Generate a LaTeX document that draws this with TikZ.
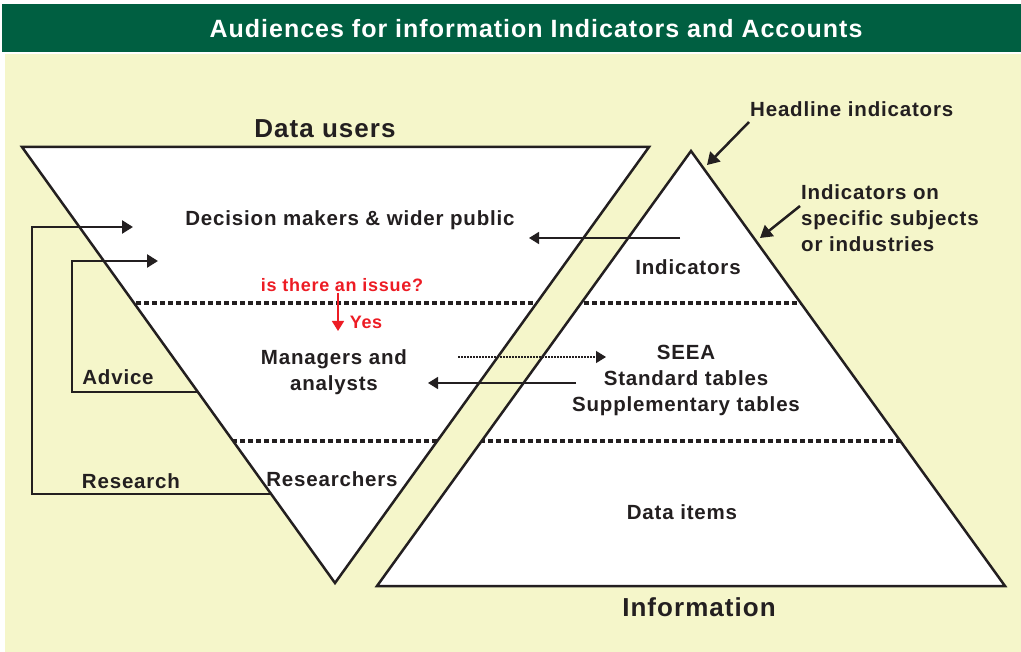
\documentclass[tikz,border=0pt]{standalone}
\usepackage{fontspec}
\setmainfont{Liberation Sans}[LetterSpace=4]
\usetikzlibrary{arrows.meta}
\definecolor{titlegreen}{RGB}{0,95,65}
\definecolor{paper}{RGB}{245,246,202}
\definecolor{ink}{RGB}{35,31,32}
\definecolor{issuered}{RGB}{237,28,36}
\tikzstyle{lbl}=[text=ink, font=\fontsize{20.5}{26}\selectfont\bfseries,
    align=center, inner sep=0pt]
\tikzstyle{big}=[lbl, font=\fontsize{26}{28}\selectfont\bfseries]
\tikzstyle{ask}=[lbl, text=issuered, font=\fontsize{18}{20}\selectfont\bfseries]
\tikzstyle{tri}=[draw=ink, line width=2.5pt, fill=white]
\tikzstyle{level}=[draw=ink, line width=3.5pt, dash pattern=on 4.5pt off 3.5pt]
\tikzstyle{feed}=[draw=ink, line width=2.5pt, -{Triangle[length=11pt,width=13pt]}]
\tikzstyle{flow}=[draw=ink, line width=1.6pt, -{Triangle[length=10pt,width=12pt]}]
\tikzstyle{hint}=[flow, line width=1.3pt, dash pattern=on 2pt off 1pt]
\tikzstyle{point}=[draw=ink, line width=2.5pt, -{Triangle[length=12pt,width=14pt]}]

\begin{document}
\begin{tikzpicture}[x=1pt, y=-1pt]
    \useasboundingbox (0,0) rectangle (1021,652);
    % frame and title
    \fill[paper] (5,54) rectangle (1021,652);
    \fill[titlegreen] (2,4) rectangle (1021,52);
    \node (title) at (536,29) [text=white, font=\fontsize{25}{28}\selectfont\bfseries]
        {Audiences for information Indicators and Accounts};
    % the two triangles
    \coordinate (du-l) at (22,147);
    \coordinate (du-r) at (649,147);
    \coordinate (du-b) at (335,583);
    \coordinate (in-t) at (691,151);
    \coordinate (in-l) at (377,586);
    \coordinate (in-r) at (1005,586);
    \draw[tri] (du-l) -- (du-r) -- (du-b) -- cycle;
    \draw[tri] (in-t) -- (in-r) -- (in-l) -- cycle;
    \begin{scope}
        \clip (du-l) -- (du-r) -- (du-b) -- cycle;
        \draw[level] (0,303) -- (1021,303) (0,441) -- (1021,441);
    \end{scope}
    \begin{scope}
        \clip (in-t) -- (in-r) -- (in-l) -- cycle;
        \draw[level] (0,303) -- (1021,303) (0,441) -- (1021,441);
    \end{scope}
    % labels
    \node (users) at (325,129) [big] {Data users};
    \node (info) at (699,607) [big] {Information};
    \node (headline) at (750,109) [lbl, anchor=west] {Headline indicators};
    \node (specific) at (801,218) [lbl, anchor=west, align=left]
        {Indicators on\\specific subjects\\or industries};
    \node (public) at (350,220) [lbl] {Decision makers \& wider public};
    \node (issue) at (342,285) [ask] {is there an issue?};
    \node (yes) at (366,322) [ask] {Yes};
    \node (indic) at (688,267) [lbl] {Indicators};
    \node (managers) at (334,372) [lbl] {Managers and\\analysts};
    \node (seea) at (686,380) [lbl] {SEEA\\Standard tables\\Supplementary tables};
    \node (advice) at (118,377) [lbl] {Advice};
    \node (research) at (131,481) [lbl] {Research};
    \node (researchers) at (332,479) [lbl] {Researchers};
    \node (items) at (682,512) [lbl] {Data items};
    % connectors
    \coordinate (advice-in) at (197,392);
    \coordinate (advice-tip) at (158,261);
    \coordinate (research-in) at (270,494);
    \coordinate (research-tip) at (133,227);
    \draw[feed] (advice-in) -- ++(-125,0) |- (advice-tip);
    \draw[feed] (research-in) -- ++(-238,0) |- (research-tip);
    \coordinate (indic-out) at (680,238);
    \coordinate (public-in) at (529,238);
    \draw[flow] (indic-out) -- (public-in);
    \coordinate (seea-out) at (576,383);
    \coordinate (managers-in) at (428,383);
    \draw[flow] (seea-out) -- (managers-in);
    \coordinate (managers-out) at (458,357);
    \coordinate (seea-in) at (606,357);
    \draw[hint] (managers-out) -- (seea-in);
    \coordinate (issue-out) at (338,293);
    \coordinate (yes-tip) at (338,331);
    \draw[flow, draw=issuered, fill=issuered] (issue-out) -- (yes-tip);
    \coordinate (headline-out) at (749,122);
    \coordinate (apex-in) at (707,165);
    \draw[point] (headline-out) -- (apex-in);
    \coordinate (specific-out) at (800,206);
    \coordinate (side-in) at (760,238);
    \draw[point] (specific-out) -- (side-in);
\end{tikzpicture}
\end{document}
